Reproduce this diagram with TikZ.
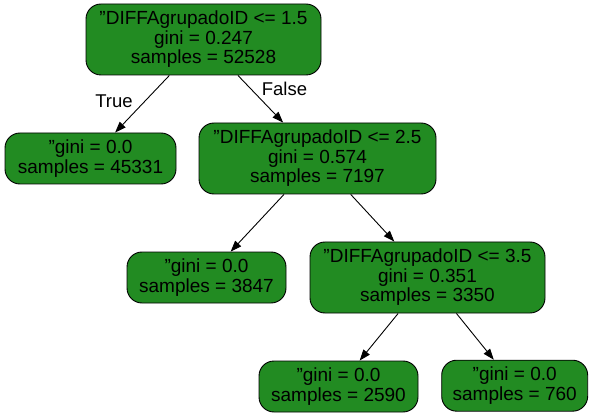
\documentclass[tikz,border=0pt]{standalone}
\usepackage{fontspec}
\setmainfont{Liberation Sans}
\usetikzlibrary{arrows.meta}
\definecolor{treegreen}{HTML}{228B22}
\newcommand{\dq}{\char34\relax}
\begin{document}
\begin{tikzpicture}[x=1pt,y=-1pt,
  treenode/.style={draw=black, line width=0.9pt, fill=treegreen, rounded corners=15pt,
    align=center, inner sep=0pt, font=\fontsize{19}{19.5}\selectfont},
  splitnode/.style={treenode, minimum height=71pt},
  leafnode/.style={treenode, minimum height=51pt},
  edge/.style={draw=black, line width=0.9pt, -{Triangle[length=11pt,width=8pt]}},
  elabel/.style={font=\fontsize{18.5}{20}\selectfont}]
\useasboundingbox (0,0) rectangle (595,417);
\node[splitnode, minimum width=235pt] (root) at (203.5,39.5) {\dq DIFFAgrupadoID <= 1.5\\gini = 0.247\\samples = 52528};
\node[leafnode, minimum width=171pt] (l1) at (90.5,158.5) {\dq gini = 0.0\\samples = 45331};
\node[splitnode, minimum width=237pt] (n2) at (317.5,158.5) {\dq DIFFAgrupadoID <= 2.5\\gini = 0.574\\samples = 7197};
\node[leafnode, minimum width=159pt] (l2) at (206.5,277.5) {\dq gini = 0.0\\samples = 3847};
\node[splitnode, minimum width=235pt] (n3) at (427.5,277.5) {\dq DIFFAgrupadoID <= 3.5\\gini = 0.351\\samples = 3350};
\node[leafnode, minimum width=159pt] (l3) at (338.5,386.5) {\dq gini = 0.0\\samples = 2590};
\node[leafnode, minimum width=146pt] (l4) at (514.7,385.7) {\dq gini = 0.0\\samples = 760};
\draw[edge] (root) -- (l1);
\draw[edge] (root) -- (n2);
\draw[edge] (n2) -- (l2);
\draw[edge] (n2) -- (n3);
\draw[edge] (n3) -- (l3);
\draw[edge] (n3) -- (l4);
\node[elabel] (ltrue) at (114,101) {True};
\node[elabel] (lfalse) at (284.5,88.5) {False};
\end{tikzpicture}
\end{document}
